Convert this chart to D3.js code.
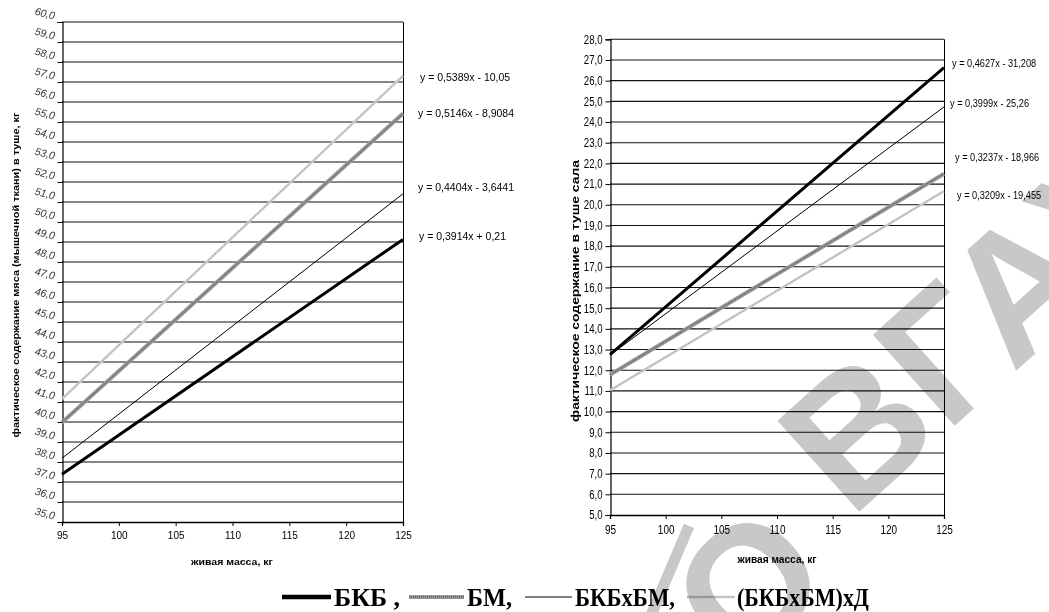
<!DOCTYPE html>
<html><head><meta charset="utf-8">
<script src="https://cdn.jsdelivr.net/npm/d3@7"></script>
<style>
body{margin:0;background:#fff}
#wrap{position:relative;width:1049px;height:612px;overflow:hidden;background:#fff;isolation:isolate}
svg{display:block;position:absolute;left:0;top:0}
.wm{position:absolute;left:0;top:0;font-family:'Liberation Sans',Arial,sans-serif;font-weight:bold;color:#c8c8c8;white-space:nowrap;transform-origin:0 0;line-height:1;pointer-events:none;mix-blend-mode:multiply}
.bar{position:absolute;left:0;top:0;background:#c8c8c8;transform-origin:0 0;mix-blend-mode:multiply}
</style>
</head><body><div id="wrap"><svg id="c" width="1049" height="612"></svg></div>
<script>
// ---------- data ----------
const xEnds = [95, 125];
const xTicks = [95, 100, 105, 110, 115, 120, 125];
const seriesNames = ["БКБ", "БМ", "БКБxБМ", "(БКБxБМ)xД"];
// meat (left panel): value at x=95 and x=125
const meatBKB      = [37.39, 49.13];
const meatBM       = [39.98, 55.42];
const meatBKBxBM   = [38.19, 51.41];
const meatBKBxBMxD = [41.15, 57.31];
// fat (right panel)
const fatBKB      = [12.75, 26.63];
const fatBM       = [11.78, 21.50];
const fatBKBxBM   = [12.73, 24.73];
const fatBKBxBMxD = [11.03, 20.66];
const meatEq = ["y = 0,5389x - 10,05", "y = 0,5146x - 8,9084", "y = 0,4404x - 3,6441", "y = 0,3914x + 0,21"];
const fatEq  = ["y = 0,4627x - 31,208", "y = 0,3999x - 25,26", "y = 0,3237x - 18,966", "y = 0,3209x - 19,455"];
const meatTicks = d3.range(35, 60.5, 1);
const fatTicks = d3.range(5, 28.5, 1);
const meatTitle = "фактическое содержание мяса (мышечной ткани) в туше, кг";
const fatTitle = "фактическое содержание в туше сала";
const xTitle = "живая масса, кг";

// ---------- styles ----------
const styles = {
  "БКБ": [{c:"#000", w:3}],
  "БМ": [{c:"#9c9c9c", w:4}, {c:"#5a5a5a", w:1.4, d:"1,1"}],
  "БКБxБМ": [{c:"#000", w:1}],
  "(БКБxБМ)xД": [{c:"#d2d2d2", w:2.6}, {c:"#8a8a8a", w:1, d:"1,1.4"}]
};
const svg = d3.select("#c");
const fmt = d => d3.format(".1f")(d).replace(".", ",");
const SANS = "'Liberation Sans', Arial, sans-serif";

function condense(sel, f) {
  sel.each(function() {
    const L = this.getComputedTextLength();
    d3.select(this).attr("textLength", L * f).attr("lengthAdjust", "spacingAndGlyphs");
  });
}

function panel(o) {
  const x = d3.scaleLinear().domain([95,125]).range([o.x0, o.x1]);
  const y = d3.scaleLinear().domain(o.domain).range([o.y1, o.y0]);
  const g = svg.append("g");
  g.selectAll("line.grid").data(o.ticks.filter(t => t > o.domain[0])).join("line")
    .attr("x1", o.x0).attr("x2", o.x1)
    .attr("y1", d => y(d)).attr("y2", d => y(d))
    .attr("stroke", "#111").attr("stroke-width", 1.1);
  g.append("line").attr("x1", o.x1 + 0.5).attr("x2", o.x1 + 0.5).attr("y1", y(o.domain[1])).attr("y2", y(o.domain[0]))
    .attr("stroke", "#000");
  const ya = g.append("g").attr("transform", `translate(${o.x0 + 0.5},0)`)
    .call(d3.axisLeft(y).tickValues(o.ticks).tickFormat(fmt).tickSize(5).tickPadding(3));
  ya.select(".domain").attr("stroke", "#000").attr("stroke-width", 1.2);
  ya.selectAll(".tick line").attr("stroke", "#000");
  const yt = ya.selectAll("text").attr("font-family", SANS).attr("font-size", o.yFs).attr("fill", o.yFill)
    .attr("font-style", o.italic ? "italic" : "normal");
  if (o.italic) yt.attr("dy", "0").attr("y", -3).attr("transform", "rotate(14,-8,-5)");
  if (o.cond) condense(yt, o.cond);
  const xa = g.append("g").attr("transform", `translate(0,${y(o.domain[0])})`)
    .call(d3.axisBottom(x).tickValues(xTicks).tickSize(4).tickPadding(6));
  xa.select(".domain").attr("stroke", "#000").attr("stroke-width", 1.3);
  xa.selectAll(".tick line").attr("stroke", "#000");
  const xt = xa.selectAll("text").attr("font-family", SANS).attr("font-size", o.xFs).attr("fill", "#000");
  if (o.cond) condense(xt, o.cond);
  const line = d3.line().x(d => x(d[0])).y(d => y(d[1]));
  o.series.forEach((vals, i) => {
    const pts = xEnds.map((xv, j) => [xv, vals[j]]);
    styles[seriesNames[i]].forEach(s => {
      g.append("path").attr("d", line(pts)).attr("fill", "none")
        .attr("stroke", s.c).attr("stroke-width", s.w).attr("stroke-dasharray", s.d || null);
    });
  });
  o.eq.forEach((t, i) => {
    const e = g.append("text").attr("x", o.eqX[i]).attr("y", o.eqY[i]).attr("dy", "0.35em")
      .attr("font-family", SANS).attr("font-size", o.eqFs).attr("fill", "#000").text(t);
    if (o.cond) condense(e, o.cond);
  });
  g.append("text").attr("x", o.xtX).attr("y", o.xtY).attr("text-anchor", "middle")
    .attr("font-family", SANS).attr("font-size", o.xtFs).attr("font-weight", "bold")
    .attr("textLength", o.xtLen).attr("lengthAdjust", "spacingAndGlyphs").text(xTitle);
  g.append("text").attr("transform", `translate(${o.ytX},${o.ytY}) rotate(-90)`).attr("text-anchor", "middle")
    .attr("font-family", SANS).attr("font-size", o.ytFs).attr("font-weight", "bold")
    .attr("textLength", o.ytLen).attr("lengthAdjust", "spacingAndGlyphs").text(o.yTitle);
}

panel({x0:62, x1:403, y0:22, y1:522, domain:[35,60], ticks:meatTicks,
  series:[meatBKB, meatBM, meatBKBxBM, meatBKBxBMxD],
  yFs:10.5, yFill:"#333", italic:true, xFs:10, cond:null,
  eq:meatEq, eqX:[420,418,418,419], eqY:[77,113,187,236], eqFs:10.5,
  xtX:232, xtY:565, xtFs:9, xtLen:82, ytX:19, ytY:275, ytFs:9, ytLen:325, yTitle:meatTitle});

panel({x0:610, x1:944, y0:39.3, y1:515, domain:[5,28], ticks:fatTicks,
  series:[fatBKB, fatBM, fatBKBxBM, fatBKBxBMxD],
  yFs:12, yFill:"#000", italic:false, xFs:12.5, cond:0.8,
  eq:fatEq, eqX:[952,950,955,957], eqY:[63,103,157,195], eqFs:11.5,
  xtX:777, xtY:563, xtFs:10.5, xtLen:79, ytX:579, ytY:291, ytFs:11, ytLen:262, yTitle:fatTitle});

// ---------- legend ----------
const legLines = [[282,331],[409,464],[525,572],[687,735]];
const legTexts = [["БКБ ,",334,66],["БМ,",467,45],["БКБxБМ,",575,100],["(БКБxБМ)xД",737,132]];
seriesNames.forEach((n, i) => {
  styles[n].forEach(s => {
    svg.append("line").attr("x1", legLines[i][0]).attr("x2", legLines[i][1]).attr("y1", 597).attr("y2", 597)
      .attr("stroke", s.c).attr("stroke-width", n === "БКБ" ? 4.5 : s.w).attr("stroke-dasharray", s.d || null);
  });
  svg.append("text").attr("x", legTexts[i][1]).attr("y", 606)
    .attr("font-family", "'Liberation Serif', 'Times New Roman', serif").attr("font-weight", "bold")
    .attr("font-size", 25).attr("textLength", legTexts[i][2]).attr("lengthAdjust", "spacingAndGlyphs")
    .text(legTexts[i][0]);
});

// ---------- watermark (light grey, multiplied over the chart) ----------
const wrap = d3.select("#wrap");
function wmText(txt, fs, bx, by, rot) {
  wrap.append("div").attr("class", "wm").style("font-size", fs + "px").text(txt)
    .style("transform", `translate(${bx}px,${by}px) rotate(${rot}deg) translate(0,${-0.905 * fs}px)`);
}
wmText("О", 170, 745, 680, -42);
wmText("ВГАУ", 178, 858, 528, -42);
wrap.append("div").attr("class", "bar")
  .style("width", "96px").style("height", "11px")
  .style("transform", "translate(651px,614px) rotate(-67deg) translate(0,-5px)");
</script></body></html>
